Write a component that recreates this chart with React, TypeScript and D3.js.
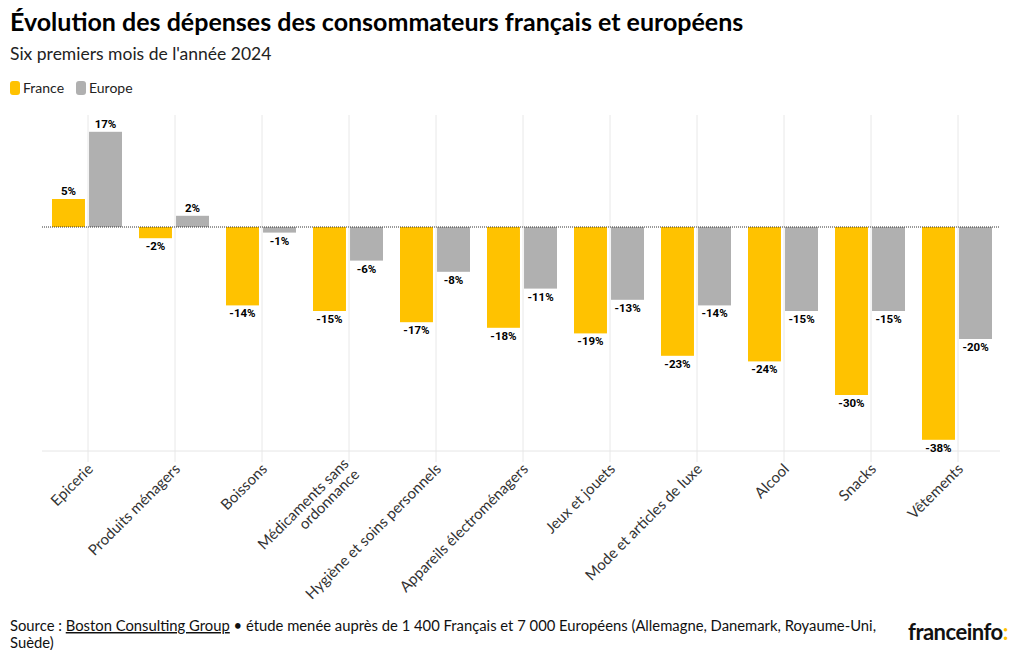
import React from "react";
import * as d3 from "d3";

const categories = [
  "Epicerie",
  "Produits ménagers",
  "Boissons",
  "Médicaments sans\nordonnance",
  "Hygiène et soins personnels",
  "Appareils électroménagers",
  "Jeux et jouets",
  "Mode et articles de luxe",
  "Alcool",
  "Snacks",
  "Vêtements",
];
const france = [5, -2, -14, -15, -17, -18, -19, -23, -24, -30, -38];
const europe = [17, 2, -1, -6, -8, -11, -13, -14, -15, -15, -20];
const seriesNames = ["France", "Europe"];
const colors = ["#FFC200", "#B0B0B0"];

const W = 1020;
const H = 650;
const left = 44.5;
const right = 1001.5;
const top = 115;
const bottom = 451;

export default function App() {
  const x = d3.scaleBand<string>().domain(categories).range([left, right]).padding(0);
  const bwc = x.bandwidth();
  const sub = d3.scaleBand<string>().domain(seriesNames).range([bwc / 2 - 36, bwc / 2 + 34]).paddingInner(0.11).paddingOuter(0);
  const y = d3.scaleLinear().domain([-40, 20]).range([bottom, top]);
  const data = [france, europe];
  const font = "Lato, 'Open Sans', sans-serif";

  return (
    <svg width={W} height={H} style={{ display: "block", position: "absolute", left: 0, top: 0, background: "#fff" }} fontFamily={font}>
      <text x={10} y={31} fontSize={25} fontWeight={700} fill="#000">
        Évolution des dépenses des consommateurs français et européens
      </text>
      <text x={10} y={60} fontSize={17.5} fill="#222">
        Six premiers mois de l'année 2024
      </text>
      {seriesNames.map((s, i) => (
        <g key={s} transform={`translate(${10 + i * 66},81)`}>
          <rect x={0} y={0} width={10} height={14} rx={3} fill={colors[i]} />
          <text x={13} y={11.5} fontSize={14} fill="#222">{s}</text>
        </g>
      ))}
      {categories.map((c) => {
        const cx = (x(c) as number) + bwc / 2;
        return <line key={c} x1={cx} x2={cx} y1={top} y2={bottom + 11} stroke="#e8e8e8" strokeWidth={1} />;
      })}
      <line x1={42} x2={1000} y1={bottom} y2={bottom} stroke="#e6e6e6" strokeWidth={1} />
      {data.map((vals, si) =>
        vals.map((v, ci) => {
          const c = categories[ci];
          const bx = (x(c) as number) + (sub(seriesNames[si]) as number);
          const y0 = y(0);
          const yv = y(v);
          const bw = sub.bandwidth();
          return (
            <g key={`${si}-${ci}`}>
              <rect x={bx} y={Math.min(y0, yv)} width={bw} height={Math.abs(yv - y0)} fill={colors[si]} />
              <text
                x={bx + bw / 2}
                y={v >= 0 ? yv - 4 : yv + 12}
                textAnchor="middle"
                fontSize={11.5}
                fontWeight={700}
                fill="#000"
                fontFamily="'Liberation Sans Narrow', 'Roboto', sans-serif"
              >
                {v}%
              </text>
            </g>
          );
        })
      )}
      <line x1={42} x2={1000} y1={y(0)} y2={y(0)} stroke="#333" strokeWidth={1} strokeDasharray="1,1" />
      {categories.map((c) => {
        const cx = (x(c) as number) + bwc / 2;
        const lines = c.split("\n");
        return (
          <text key={c} transform={`translate(${cx + 6},${bottom + 19}) rotate(-45)`} textAnchor="end" fontSize={15} fill="#333">
            {lines.map((l, i) => (
              <tspan key={i} x={0} dy={i === 0 ? -(lines.length - 1) * 7.5 : 15}>{l}</tspan>
            ))}
          </text>
        );
      })}
      <text x={10} y={631} fontSize={14.8} fill="#111">
        Source : <tspan textDecoration="underline">Boston Consulting Group</tspan> • étude menée auprès de 1 400 Français et 7 000 Européens (Allemagne, Danemark, Royaume-Uni,
      </text>
      <text x={10} y={648} fontSize={14.8} fill="#111">Suède)</text>
      <text x={908} y={640} fontSize={22} fontWeight={700} fill="#111" letterSpacing={-0.5}>
        franceinfo<tspan fill="#FFC200">:</tspan>
      </text>
    </svg>
  );
}
